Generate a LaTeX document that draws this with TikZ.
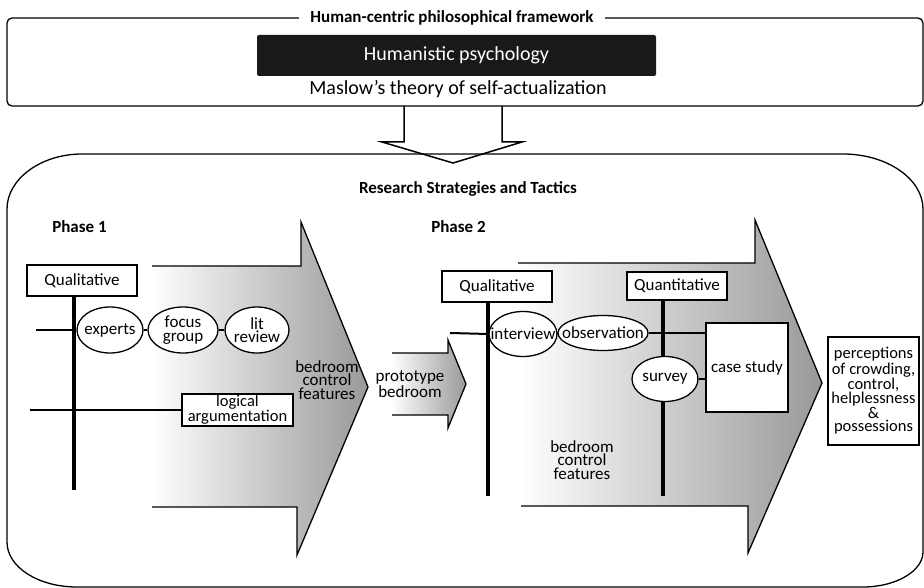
\documentclass[tikz,border=0pt]{standalone}
\usepackage{fontspec}
\setmainfont{Carlito}
\usetikzlibrary{shapes.geometric}

\begin{document}
\begin{tikzpicture}[x=1pt,y=-1pt,
  outline/.style={line width=1.3pt},
  heading/.style={font=\fontsize{17}{17}\selectfont\bfseries, inner sep=0pt},
  methodbox/.style={draw, line width=2.6pt, fill=white, minimum width=110pt,
    minimum height=31pt, inner sep=0pt, font=\fontsize{17}{17}\selectfont},
  plainbox/.style={draw, line width=1.2pt, fill=white, inner sep=0pt, align=center,
    font=\fontsize{16.5}{13}\selectfont},
  spine/.style={line width=4pt},
  branch/.style={line width=2pt},
  oval/.style={draw, ellipse, fill=white, line width=1.3pt, inner sep=0pt},
  ovaltext/.style={font=\fontsize{17}{13.5}\selectfont, align=center, inner sep=0pt},
  flowtext/.style={font=\fontsize{17}{13.5}\selectfont, align=center, inner sep=0pt},
  flowfill/.style={left color=white, right color=black!40},
]
\useasboundingbox (0,0) rectangle (924,588);

% ---------- philosophical framework ----------
\draw[outline, rounded corners=5pt] (7,18) rectangle (923,106);
\node[heading, fill=white, inner xsep=11pt] (frame) at (452,18)
  {Human-centric philosophical framework};
\node[fill=black!90, rounded corners=2pt, minimum width=399pt, minimum height=41pt,
  inner sep=0pt, text=white, font=\fontsize{20}{20}\selectfont] (hp) at (456.5,55.5)
  {Humanistic psychology};
\node[font=\fontsize{20}{20}\selectfont, inner sep=0pt] (maslow) at (458,89)
  {Maslow’s theory of self-actualization};

% ---------- research strategies frame ----------
\draw[outline]
  (7,209) .. controls (7,179) and (41,154) .. (82,154)
  -- (843,154) .. controls (887,154) and (923,179) .. (923,209)
  -- (923,552) .. controls (923,571) and (896,587) .. (863,587)
  -- (77,587) .. controls (38,587) and (7,567) .. (7,542) -- cycle;

% hollow arrow between the frames
\draw[outline, line width=1.5pt] (404,106) -- (404,142) -- (382,142) -- (453,163)
  -- (522,142) -- (502,142) -- (502,106);

\node[heading] (rst) at (468,189) {Research Strategies and Tactics};
\node[heading] (ph1) at (79.5,227) {Phase 1};
\node[heading] (ph2) at (458.5,227) {Phase 2};

% ---------- shaded flow arrows ----------
\path[flowfill] (150,266) -- (301,266) -- (301,222) -- (368,387) -- (297,555)
  -- (297,507) -- (150,507) -- cycle;
\draw[outline] (152,266) -- (301,266) -- (301,222) -- (368,387) -- (297,555)
  -- (297,507) -- (152,507);

\path[flowfill] (392,353) -- (448,353) -- (448,340) -- (466,384) -- (448,428)
  -- (448,415) -- (392,415) -- cycle;
\draw[outline] (392,353) -- (448,353) -- (448,340) -- (466,384) -- (448,428)
  -- (448,415) -- (392,415);

\path[flowfill] (518,263) -- (755,263) -- (755,220) -- (822,383) -- (748,553)
  -- (748,506) -- (518,506) -- cycle;
\draw[outline] (518,263) -- (755,263) -- (755,220) -- (822,383) -- (748,553)
  -- (748,506) -- (521,506);

\node[flowtext] (bcf1) at (327,380) {bedroom\\control\\features};
\node[flowtext] (proto) at (410,384) {prototype\\bedroom};
\node[flowtext] (bcf2) at (582,460) {bedroom\\control\\features};

% ---------- phase 1 ----------
\node[methodbox] (q1) at (82,280.5) {Qualitative};
\coordinate (s1end) at (74,490);
\draw[spine] (s1end |- q1.south) -- (s1end);

\node[oval, minimum width=66pt, minimum height=46pt] (ex) at (110,330) {};
\node[ovaltext] (ext) at (ex) {experts};
\node[oval, minimum width=70pt, minimum height=46pt] (fg) at (183,330) {};
\node[ovaltext] (fgt) at (fg) {focus\\group};
\node[oval, minimum width=64pt, minimum height=46pt] (lr) at (257,330) {};
\node[ovaltext] (lrt) at (lr) {lit\\review};

\coordinate (b1start) at (36,330);
\draw[branch] (b1start) -- (ex.west);
\draw[branch] (ex.east) -- (fg.west);
\draw[branch] (fg.east) -- (lr.west);

\node[plainbox, minimum width=111pt, minimum height=32pt] (la) at (237.5,410)
  {logical\\argumentation};
\coordinate (b2start) at (30,410);
\draw[branch] (b2start) -- (la.west);

% ---------- phase 2 ----------
\node[methodbox] (q2) at (497,286.5) {Qualitative};
\coordinate (s2end) at (488,496);
\draw[spine] (s2end |- q2.south) -- (s2end);

\node[methodbox, minimum width=100pt, minimum height=28pt] (qn) at (677,286) {Quantitative};
\coordinate (s3end) at (663,496);
\draw[spine] (s3end |- qn.south) -- (s3end);

\node[plainbox, minimum width=82pt, minimum height=89pt, font=\fontsize{17}{17}\selectfont]
  (cs) at (747,367.5) {case study};

\node[oval, minimum width=68pt, minimum height=45pt] (iv) at (523,334) {};
\node[ovaltext] (ivt) at (iv) {interview};
\node[oval, minimum width=90pt, minimum height=35pt] (ob) at (603,333) {};
\node[ovaltext] (obt) at (ob) {observation};
\node[oval, minimum width=66pt, minimum height=45pt] (sv) at (665,379) {};
\node[ovaltext] (svt) at (sv) {survey};

\coordinate (b3start) at (450,333);
\draw[branch] (b3start) -- (iv.west);
\draw[branch] (iv.east) -- (ob.west);
\draw[branch] (ob.east) -- (cs.west |- ob.east);
\draw[branch] (sv.east) -- (cs.west |- sv.east);

% ---------- outcome ----------
\node[plainbox, minimum width=91pt, minimum height=108pt] (out) at (873.5,391)
  {perceptions\\of crowding,\\control,\\helplessness\\\&\\possessions};

\end{tikzpicture}
\end{document}
